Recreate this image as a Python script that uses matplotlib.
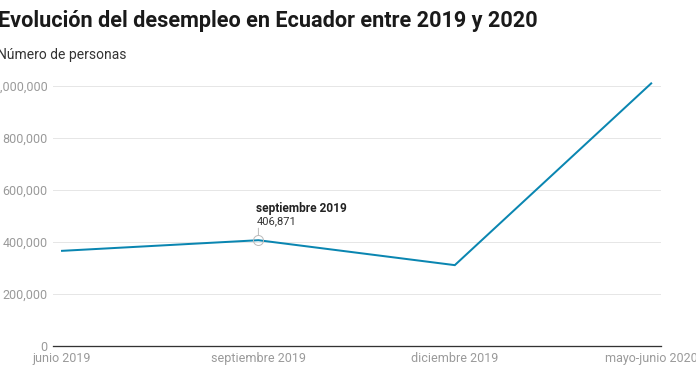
import matplotlib.pyplot as plt
from matplotlib.ticker import FuncFormatter

# data
periods = ["junio 2019", "septiembre 2019", "diciembre 2019", "mayo-junio 2020"]
unemployed = [366000, 406871, 311000, 1010000]
yticks = [0, 200000, 400000, 600000, 800000, 1000000]
highlight = 1  # septiembre 2019

line_color = "#0a86b1"
px = 0.72  # points per pixel at dpi 100

plt.rcParams['font.family'] = ['Roboto', 'DejaVu Sans']

fig = plt.figure(figsize=(6.96, 3.77), dpi=100)
# axes box in pixels: left 53, right 661, bottom 346, top ~78
ax = fig.add_axes([53 / 696, 1 - 346 / 377, (661 - 53) / 696, (346 - 78.2) / 377])

x = list(range(len(periods)))
ax.plot(x, unemployed, color=line_color, lw=2 * px, solid_joinstyle='miter', zorder=3)

ax.set_xlim(-0.046, 3.05)
ax.set_ylim(0, 1030000)

ax.set_yticks(yticks)
ax.yaxis.set_major_formatter(FuncFormatter(lambda v, p: f"{int(v):,}"))
ax.set_xticks(x)
ax.set_xticklabels(periods)
ax.tick_params(axis='both', length=0, colors='#9a9a9a', labelsize=8.2)
ax.tick_params(axis='y', pad=4)
ax.tick_params(axis='x', pad=4)
for lab in ax.get_xticklabels() + ax.get_yticklabels():
    lab.set_family(['Liberation Sans Narrow', 'Roboto'])
    lab.set_fontsize(9)

ax.grid(axis='y', color='#e6e6e6', lw=1 * px)
ax.set_axisbelow(True)
for side in ['top', 'right', 'left']:
    ax.spines[side].set_visible(False)
ax.spines['bottom'].set_color('#333333')
ax.spines['bottom'].set_linewidth(1.3 * px)

# highlighted point
hx, hy = x[highlight], unemployed[highlight]
ax.plot(hx, hy, marker='o', ms=10 * px, mfc='none', mec='#bbbbbb', mew=1 * px, zorder=4)
ax.annotate("", xy=(hx, hy), xytext=(0, 12 * px), textcoords='offset points',
            arrowprops=dict(arrowstyle='-', color='#bbbbbb', lw=1 * px,
                            shrinkA=0, shrinkB=5 * px))
ax.annotate(periods[highlight], xy=(hx, hy), xytext=(-2 * px, 32 * px),
            textcoords='offset points', ha='left', va='center',
            fontsize=8.6, fontweight='bold', color='#222222')
ax.annotate(f"{unemployed[highlight]:,}", xy=(hx, hy), xytext=(-2 * px, 19 * px),
            textcoords='offset points', ha='left', va='center',
            fontsize=8, color='#333333')

fig.text(-0.003, 1 - 21 / 377, "Evolución del desempleo en Ecuador entre 2019 y 2020",
         fontsize=15.6, fontweight='bold', color='#1a1a1a', ha='left', va='center')
fig.text(-0.004, 1 - 55 / 377, "Número de personas", fontsize=10, color='#333333',
         ha='left', va='center')

fig.savefig("out.png", dpi=100)
